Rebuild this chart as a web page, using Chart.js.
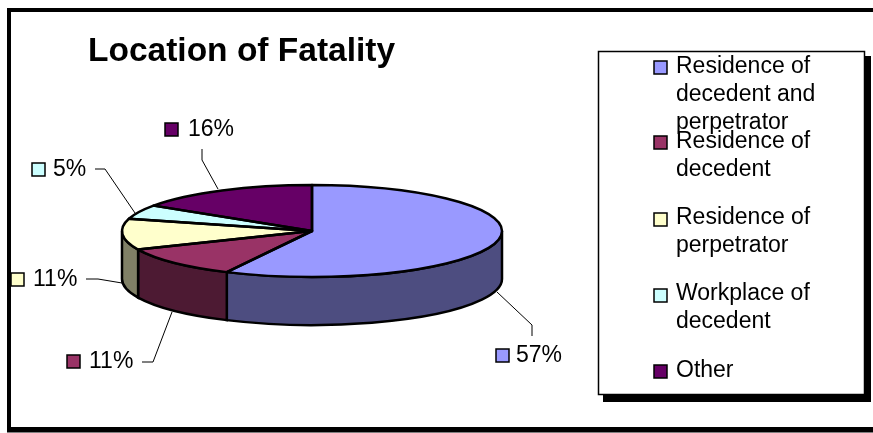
<!DOCTYPE html>
<html>
<head>
<meta charset="utf-8">
<style>
  html, body { margin: 0; padding: 0; background: #fff; }
  #wrap { position: relative; width: 873px; height: 433px; overflow: hidden; }
</style>
</head>
<body>
<div id="wrap"><canvas id="chart" width="873" height="433"></canvas></div>
<script src="https://cdn.jsdelivr.net/npm/chart.js@4"></script>
<script>
// Chart data, shares estimated from the slice edges, labels round them
const categories = ['Residence of decedent and perpetrator', 'Residence of decedent', 'Residence of perpetrator', 'Workplace of decedent', 'Other'];
const values = [57.4, 11.0, 10.9, 5.0, 15.7];
const sliceColors = ['#9999FF', '#993366', '#FFFFCC', '#CCFFFF', '#660066'];
const wallColors = ['#4D4D80', '#4D1A33', '#808066', '#668080', '#330033'];

// Legend text wraps the way the original does, one array per entry
const legendLines = [
    ['Residence of', 'decedent and', 'perpetrator'],
    ['Residence of', 'decedent'],
    ['Residence of', 'perpetrator'],
    ['Workplace of', 'decedent'],
    ['Other']
];

// Layout only, no data in here
const FONT = '"Liberation Sans", Arial, sans-serif';
const squash = 46 / 190; // tilt of the pie
const depth = 48;
const legendFirstBaseline = [73, 148, 224, 300, 377];
const legendKeyY = [61, 136, 213, 289, 365];
const labelBoxes = [
    { keyX: 496, keyY: 349, textX: 516, base: 362, leader: [[532, 336], [532, 325], [497, 292]] },
    { keyX: 67, keyY: 355, textX: 89, base: 368, leader: [[142, 362], [153, 362], [172, 312]] },
    { keyX: 11, keyY: 273, textX: 33, base: 286, leader: [[86, 279], [98, 279], [122, 283]] },
    { keyX: 32, keyY: 163, textX: 53, base: 176, leader: [[95, 169], [105, 169], [135, 213]] },
    { keyX: 165, keyY: 123, textX: 188, base: 136, leader: [[202, 149], [202, 160], [218, 189]] }
];

function key(ctx, x, y, color) {
    ctx.fillStyle = color;
    ctx.fillRect(x, y, 13, 13);
    ctx.strokeStyle = '#000';
    ctx.lineWidth = 1.5;
    ctx.strokeRect(x, y, 13, 13);
}

// Draws the frame, title and legend under the pie
const framePlugin = {
    id: 'frame',
    beforeDraw(chart) {
        const ctx = chart.ctx;
        ctx.save();
        ctx.fillStyle = '#fff';
        ctx.fillRect(0, 0, 873, 433);
        // frame runs off the right edge of the picture
        ctx.fillStyle = '#000';
        ctx.fillRect(7, 8, 866, 4);
        ctx.fillRect(7, 8, 4, 424);
        ctx.fillRect(7, 427, 866, 5.5);

        ctx.font = 'bold 33.5px ' + FONT;
        ctx.textBaseline = 'alphabetic';
        ctx.fillText('Location of Fatality', 88, 61);

        // legend box with hard shadow
        ctx.fillStyle = '#000';
        ctx.fillRect(603, 56, 268, 346);
        ctx.fillStyle = '#fff';
        ctx.fillRect(598, 51, 267, 344);
        ctx.strokeStyle = '#000';
        ctx.lineWidth = 1.5;
        ctx.strokeRect(598.5, 51.5, 266, 343);
        ctx.font = '23px ' + FONT;
        legendLines.forEach((lines, i) => {
            key(ctx, 654, legendKeyY[i], sliceColors[i]);
            ctx.fillStyle = '#000';
            lines.forEach((line, j) => ctx.fillText(line, 676, legendFirstBaseline[i] + j * 28));
        });
        ctx.restore();
    }
};

// Side walls of the pie, taken from the arc elements
const wallPlugin = {
    id: 'walls',
    beforeDatasetDraw(chart) {
        const ctx = chart.ctx;
        const arcs = chart.getDatasetMeta(0).data;
        ctx.save();
        arcs.forEach((arc, i) => {
            const r = arc.outerRadius;
            const ry = r * squash;
            // only the part facing the viewer
            const a1 = Math.max(arc.startAngle, 0);
            const a2 = Math.min(arc.endAngle, Math.PI);
            if (a2 <= a1) return;
            ctx.beginPath();
            ctx.ellipse(arc.x, arc.y, r, ry, 0, a1, a2);
            ctx.ellipse(arc.x, arc.y + depth, r, ry, 0, a2, a1, true);
            ctx.closePath();
            ctx.fillStyle = wallColors[i];
            ctx.fill();
            ctx.strokeStyle = '#000';
            ctx.lineWidth = 2.5;
            ctx.stroke();
        });
        ctx.restore();
        // flatten the pie for the library's own arc drawing
        const c = arcs[0];
        ctx.save();
        ctx.translate(c.x, c.y);
        ctx.scale(1, squash);
        ctx.translate(-c.x, -c.y);
    },
    afterDatasetDraw(chart) {
        const ctx = chart.ctx;
        ctx.restore();
        // outlines after the transform is gone so they keep an even width
        const arcs = chart.getDatasetMeta(0).data;
        ctx.save();
        ctx.strokeStyle = '#000';
        ctx.lineWidth = 2.5;
        ctx.lineJoin = 'round';
        arcs.forEach(arc => {
            const r = arc.outerRadius;
            ctx.beginPath();
            ctx.moveTo(arc.x, arc.y);
            ctx.ellipse(arc.x, arc.y, r, r * squash, 0, arc.startAngle, arc.endAngle);
            ctx.closePath();
            ctx.stroke();
        });
        ctx.restore();
    }
};

// Percent labels with leader lines
const labelPlugin = {
    id: 'pctLabels',
    afterDraw(chart) {
        const ctx = chart.ctx;
        ctx.save();
        ctx.font = '23px ' + FONT;
        labelBoxes.forEach((b, i) => {
            ctx.strokeStyle = '#000';
            ctx.lineWidth = 1;
            ctx.beginPath();
            b.leader.forEach((p, j) => j ? ctx.lineTo(p[0], p[1]) : ctx.moveTo(p[0], p[1]));
            ctx.stroke();
            key(ctx, b.keyX, b.keyY, sliceColors[i]);
            ctx.fillStyle = '#000';
            ctx.fillText(Math.round(values[i]) + '%', b.textX, b.base);
        });
        ctx.restore();
    }
};

new Chart(document.getElementById('chart'), {
    type: 'pie',
    data: {
        labels: categories,
        datasets: [{
            data: values,
            backgroundColor: sliceColors,
            borderWidth: 0
        }]
    },
    options: {
        responsive: false,
        animation: false,
        events: [],
        layout: { padding: { left: 122, right: 371, top: 41, bottom: 12 } },
        plugins: {
            legend: { display: false },
            tooltip: { enabled: false }
        }
    },
    plugins: [framePlugin, wallPlugin, labelPlugin]
});
</script>
</body>
</html>
